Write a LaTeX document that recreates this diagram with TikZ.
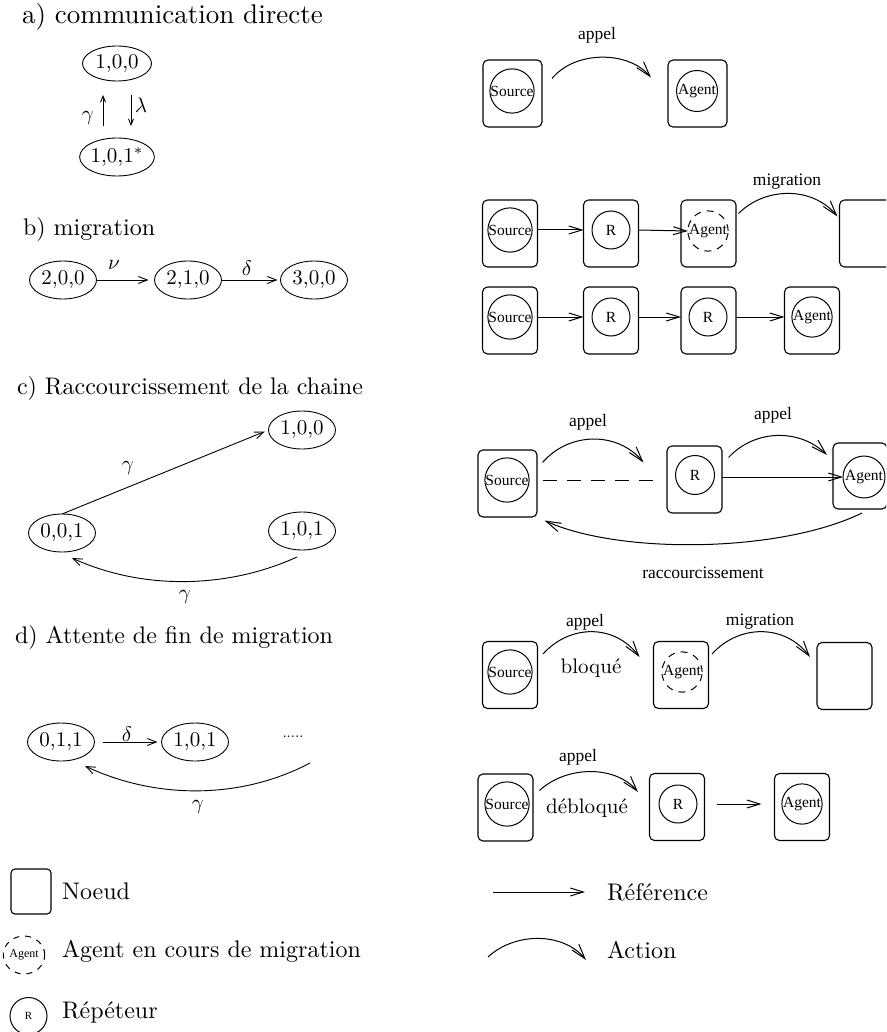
\documentclass[tikz,border=0pt]{standalone}
\usepackage{fontspec}
\usepackage{graphicx}
\newfontfamily\tms{Liberation Serif}
\usetikzlibrary{arrows.meta,shapes.geometric,calc}
\newcommand\hdtxt[1]{\scalebox{2.4}{#1}}
\newcommand\smtxt[1]{\scalebox{2.1}{#1}}

\begin{document}
\begin{tikzpicture}[x=1pt,y=-1pt,
  every node/.style={inner sep=0pt, outer sep=0pt},
  stateell/.style={draw, ellipse, line width=0.9pt, minimum width=67pt, minimum height=38pt},
  trans/.style={line width=0.9pt, -{Straight Barb[length=9pt,width=7pt]}},
  transsmall/.style={line width=0.9pt, -{Straight Barb[length=6pt,width=5pt]}},
  host/.style={draw, rounded corners=5pt, line width=1.1pt, minimum width=55pt, minimum height=67pt},
  proc/.style={draw, circle, line width=1pt, minimum size=40pt, font=\tms\fontsize{15.5}{17}\selectfont},
  moving/.style={proc, dash pattern=on 7pt off 6pt},
  ref/.style={line width=1pt, -{Straight Barb[length=13pt,width=8pt]}},
  act/.style={line width=1pt, -{Straight Barb[length=15pt,width=9pt]}},
  lbl/.style={font=\tms\fontsize{17.5}{20}\selectfont},
]
\useasboundingbox (0,0) rectangle (886,1032);
\clip (0,0) rectangle (886,1032);

% ---------- a) direct communication ----------
\node[anchor=west] (hA) at (22,17) {\scalebox{2.7}{a) communication directe}};
\node[stateell, minimum width=69pt, minimum height=35pt] (eA1) at (117,63.5) {\smtxt{1,0,0}};
\node[stateell, minimum width=69pt, minimum height=38pt] (eA2) at (117,157) {\smtxt{1,0,1$^*$}};
\draw[transsmall, shorten <=12pt, shorten >=14pt] ([xshift=-14pt]eA2.north) -- ([xshift=-14pt]eA1.south);
\draw[transsmall, shorten <=14pt, shorten >=12pt] ([xshift=14pt]eA1.south) -- ([xshift=14pt]eA2.north);
\node (gA) at (88,118) {\smtxt{$\gamma$}};
\node (lA) at (141,105) {\smtxt{$\lambda$}};

% ---------- b) migration ----------
\node[anchor=west] (hB) at (23,230) {\hdtxt{b) migration}};
\node[stateell] (eB1) at (63,280) {\smtxt{2,0,0}};
\node[stateell] (eB2) at (188,280) {\smtxt{2,1,0}};
\node[stateell] (eB3) at (314,280) {\smtxt{3,0,0}};
\draw[trans, shorten >=6pt] (eB1) -- (eB2);
\draw[trans, shorten >=3pt] (eB2) -- (eB3);
\node (nuB) at (114,265) {\smtxt{$\nu$}};
\node (dlB) at (247,268) {\smtxt{$\delta$}};

% ---------- c) chain shortening ----------
\node[anchor=west] (hC) at (17,388) {\hdtxt{c) Raccourcissement de la chaine}};
\node[stateell] (eC1) at (302,430) {\smtxt{1,0,0}};
\node[stateell] (eC2) at (62,533) {\smtxt{0,0,1}};
\node[stateell] (eC3) at (302,531) {\smtxt{1,0,1}};
\draw[trans, shorten >=4pt] (eC2.north) -- (eC1.west);
\node (gC1) at (128,468) {\smtxt{$\gamma$}};
\draw[trans] ([shift={(-5,7)}]eC3.south) .. controls +(-70,32) and +(70,32) .. ([shift={(10,6)}]eC2.south);
\node (gC2) at (185,597) {\smtxt{$\gamma$}};

% ---------- d) waiting for the end of migration ----------
\node[anchor=west] (hD) at (15,637) {\hdtxt{d) Attente de fin de migration}};
\node[stateell] (eD1) at (61,742) {\smtxt{0,1,1}};
\node[stateell] (eD2) at (195,742) {\smtxt{1,0,1}};
\node (dots) at (293,737) {\scalebox{1.5}{.....}};
\draw[trans, shorten <=8pt, shorten >=4pt] (eD1) -- (eD2);
\node (dlD) at (127,734) {\smtxt{$\delta$}};
\draw[trans] ([shift={(17,26)}]dots.center) .. controls +(-70,37) and +(70,33) .. ([shift={(24,5)}]eD1.south);
\node (gD) at (198,807) {\smtxt{$\gamma$}};

% ---------- right: direct call ----------
\node[host, minimum width=59pt] (sA) at (512.5,93.5) {};
\node[proc, minimum size=42pt] (cSA) at (512,91) {Source};
\node[host, minimum width=59pt] (aA) at (697.5,93.5) {};
\node[proc, minimum size=41pt] (cAA) at (697,91) {Agent};
\draw[act] ([shift={(10,-15)}]sA.east) .. controls +(23,-28) and +(-23,-27) .. ([shift={(-17,-16)}]aA.west);
\node[lbl] (tA) at (597,35) {appel};

% ---------- right: migration, first row ----------
\node[host] (sB) at (510,233.5) {};
\node[proc, minimum size=41pt] (cSB) at (510,230) {Source};
\node[host] (rB) at (611,233.5) {};
\node[proc, minimum size=38pt] (cRB) at (611,230) {R};
\node[host] (aB) at (708.5,233.5) {};
\node[moving, minimum size=39pt] (cAB) at (708,231) {Agent};
\node[host] (nB) at (867,233.5) {};
\draw[ref] (sB.east |- cSB.center) -- (rB.west |- cSB.center);
\draw[ref] (rB.east |- cRB.center) -- (cAB.west);
\draw[act] ([shift={(2.5,-20)}]aB.east) .. controls +(27,-27) and +(-25,-30) .. ([shift={(-2,-17)}]nB.west);
\node[lbl] (tB) at (787,182) {migration};

% ---------- right: migration, second row ----------
\node[host] (sB2) at (510,320.5) {};
\node[proc, minimum size=41pt] (cSB2) at (510,317) {Source};
\node[host] (rB2) at (611,320.5) {};
\node[proc, minimum size=38pt] (cRB2) at (611,317) {R};
\node[host] (rB3) at (708.5,320.5) {};
\node[proc, minimum size=38pt] (cRB3) at (708,317) {R};
\node[host] (aB2) at (812,320.5) {};
\node[proc, minimum size=40pt] (cAB2) at (812,317) {Agent};
\draw[ref] (sB2.east |- cSB2.center) -- (rB2.west |- cSB2.center);
\draw[ref] (rB2.east |- cRB2.center) -- (rB3.west |- cRB2.center);
\draw[ref] (rB3.east |- cRB3.center) -- (aB2.west |- cRB3.center);

% ---------- right: shortening ----------
\node[host, minimum width=59pt] (sC) at (507.5,483.5) {};
\node[proc, minimum size=42pt] (cSC) at (507,480) {Source};
\node[host] (rC) at (694.5,479.5) {};
\node[proc, minimum size=39pt] (cRC) at (695,475) {R};
\node[host, minimum width=54pt, minimum height=66pt] (aC) at (860,476) {};
\node[proc, minimum size=42pt] (cAC) at (864,477) {Agent};
\draw[line width=0.9pt, dash pattern=on 14pt off 10pt, shorten <=6pt, shorten >=10pt] (sC.east |- cSC.center) -- (rC.west |- cSC.center);
\draw[ref] (rC.east |- cAC.center) -- (cAC.west);
\draw[act] ([shift={(5.5,-21)}]sC.east) .. controls +(27,-31) and +(-26,-31) .. ([shift={(-23.5,-17)}]rC.west);
\node[lbl] (tC1) at (588,422) {appel};
\draw[act] ([shift={(6.5,-22)}]rC.east) .. controls +(27,-29) and +(-27,-26) .. ([shift={(-6,-21)}]aC.west);
\node[lbl] (tC2) at (773,415) {appel};
\draw[act] ([shift={(2,4)}]aC.south) .. controls +(-82,40) and +(75,34) .. ([shift={(7.5,3.5)}]sC.south east);
\node[lbl] (tC3) at (703,573) {raccourcissement};

% ---------- right: blocked call ----------
\node[host] (sD) at (510,675) {};
\node[proc, minimum size=41pt] (cSD) at (510,672) {Source};
\node[host] (aD) at (681,675) {};
\node[moving] (cAD) at (682,672) {Agent};
\node[host] (nD) at (844.5,676) {};
\draw[act] ([shift={(5.5,-21)}]sD.east) .. controls +(27,-30) and +(-25,-33) .. ([shift={(-14,-18)}]aD.west);
\node[lbl] (tD1) at (585,622) {appel};
\node (blq) at (591,668) {\smtxt{bloqué}};
\draw[act] ([shift={(3.5,-21)}]aD.east) .. controls +(27,-30) and +(-25,-33) .. ([shift={(-7,-19)}]nD.west);
\node[lbl] (tD2) at (760,622) {migration};

% ---------- right: released call ----------
\node[host] (sE) at (505.5,807.5) {};
\node[proc, minimum size=41pt] (cSE) at (507,804) {Source};
\node[host] (rE) at (677,807) {};
\node[proc, minimum size=38pt] (cRE) at (678,804) {R};
\node[host] (aE) at (802,807) {};
\node[proc, minimum size=39pt] (cAE) at (802,804) {Agent};
\draw[act] ([shift={(6.5,-17)}]sE.east) .. controls +(27,-25) and +(-23,-27) .. ([shift={(-11.5,-15)}]rE.west);
\node[lbl] (tE) at (578,757) {appel};
\node (dblq) at (587,808) {\smtxt{débloqué}};
\draw[ref, shorten <=12pt, shorten >=13pt] (rE.east |- cRE.center) -- (aE.west |- cRE.center);

% ---------- legend ----------
\node[host, minimum width=40pt, minimum height=45pt, rounded corners=4pt] (lgN) at (31,891.5) {};
\node[anchor=west] (lgNt) at (62,891) {\hdtxt{Noeud}};
\node[draw, ellipse, dash pattern=on 6pt off 6pt, line width=1pt, minimum width=33pt, minimum height=38pt, font=\tms\fontsize{12}{13}\selectfont] (lgA) at (24,955) {Agent};
\node[anchor=west] (lgAt) at (62,951) {\hdtxt{Agent en cours de migration}};
\node[proc, minimum size=37pt, font=\tms\fontsize{11}{12}\selectfont] (lgR) at (28.5,1016) {R};
\node[anchor=west] (lgRt) at (62,1012) {\hdtxt{Répéteur}};
\coordinate (refS) at (493,892);
\node[anchor=west] (lgRef) at (607,892) {\hdtxt{Référence}};
\draw[ref, shorten >=22pt] (refS) -- (lgRef.west);
\coordinate (actS) at (488,957);
\node[anchor=west] (lgAct) at (607,950) {\hdtxt{Action}};
\draw[act] (actS) .. controls +(27,-25) and +(-23,-28) .. ([shift={(-21,10)}]lgAct.west);
\end{tikzpicture}
\end{document}
